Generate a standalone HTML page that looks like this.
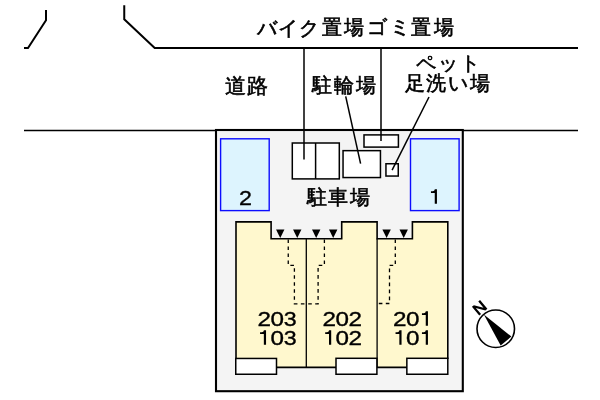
<!DOCTYPE html>
<html><head><meta charset="utf-8">
<style>
html,body{margin:0;padding:0;background:#fff;width:600px;height:400px;overflow:hidden}
svg{display:block}
text{font-family:"Liberation Sans",sans-serif;fill:#000}
.j text{stroke:#000;stroke-width:0.6px}
.d text{stroke:#000;stroke-width:0.35px}
svg{will-change:transform}
</style></head><body>
<svg width="600" height="400" viewBox="0 0 600 400">
<g fill="none" stroke="#000" stroke-width="2" stroke-linejoin="miter">
<path d="M24 48 H28 L46 20.3 V10"/>
<path d="M124.25 5.25 V19.2 L154.7 48 H578"/>
</g>
<path d="M24 130.5 H578" stroke="#000" stroke-width="1.5"/>
<!-- site -->
<rect x="216" y="130" width="246.8" height="261.2" fill="#f4f4f4" stroke="#000" stroke-width="2.1"/>
<!-- parking -->
<rect x="220.6" y="138.8" width="48.6" height="71.8" fill="#ddf4fe" stroke="#0c0cff" stroke-width="1.4"/>
<rect x="410.5" y="138.8" width="48.6" height="71.8" fill="#ddf4fe" stroke="#0c0cff" stroke-width="1.4"/>
<!-- facilities -->
<g fill="#fff" stroke="#000" stroke-width="1.5">
<rect x="292.3" y="143" width="47" height="35.9"/>
<rect x="343.05" y="150.65" width="37.4" height="26.9"/>
<rect x="364" y="134.9" width="34.4" height="12.2"/>
<rect x="385.95" y="163.75" width="12.3" height="12.3"/>
</g>
<g stroke="#000" stroke-width="1.5" fill="none">
<path d="M315.6 143 V178.9"/>
<path d="M304 48 V159.4"/>
<path d="M381 48 V141"/>
<path d="M345.7 96.3 L360.6 163.6"/>
<path d="M429 97 L392.1 170.2"/>
</g>
<!-- building -->
<path d="M236 221.9 H271.1 V238.7 H341.7 V221.9 H377.1 V238.7 H412.4 V221.9 H447.8 V367.4 H236 Z" fill="#fff8ce"/>
<path d="M236 359 V221.9 H271.1 V238.7 H341.7 V221.9 H377.1 V238.7 H412.4 V221.9 H447.8 V359 M276 367.4 H336.5 M376.5 367.4 H407.5" fill="none" stroke="#000" stroke-width="1.6"/>
<g stroke="#000" stroke-width="1.3">
<path d="M306.3 238.6 V367"/>
<path d="M377.1 238.6 V367"/>
</g>
<g stroke="#000" stroke-width="1.3" fill="none" stroke-dasharray="3.6 3.4">
<path d="M288.25 239.4 V265.3 H294.4 V303.8 H306.3"/>
<path d="M324.4 239.4 V265.3 H318.1 V303.8 H306.3"/>
<path d="M395.3 239.4 V265.3 H389.5 V303.5 H377.1"/>
</g>
<g fill="#000">
<path d="M276.05 229.4 h8.4 l-4.2 8.5 z"/>
<path d="M293.05 229.4 h8.4 l-4.2 8.5 z"/>
<path d="M312.00 229.4 h8.4 l-4.2 8.5 z"/>
<path d="M329.00 229.4 h8.4 l-4.2 8.5 z"/>
<path d="M382.40 229.4 h8.4 l-4.2 8.5 z"/>
<path d="M399.50 229.4 h8.4 l-4.2 8.5 z"/>
</g>
<g fill="#fff" stroke="#000" stroke-width="1.5">
<rect x="235.75" y="358.45" width="40.75" height="15.8"/>
<rect x="336" y="358.3" width="40.9" height="15.95"/>
<rect x="406.85" y="358.3" width="40.95" height="15.95"/>
</g>
<!-- compass -->
<g transform="translate(495.75 328.75) rotate(-40)">
<path d="M0 -18.5 L7 16 L-7 16 Z" fill="#000"/>
</g>
<circle cx="495.75" cy="328.75" r="18.75" fill="none" stroke="#000" stroke-width="1.6"/>
<path transform="translate(479.65 307.8) rotate(-40)" d="M-5.30 5.70 L-5.30 -5.70 L-2.70 -5.70 L3.00 2.40 L3.00 -5.70 L5.30 -5.70 L5.30 5.70 L2.70 5.70 L-3.00 -2.40 L-3.00 5.70 Z" fill="#000"/>
<!-- texts -->
<g class="j" font-size="20">
<text x="256.65 278 299 321.5 343.6 367.25 389.75 411 433.5" y="35 35 35 34 34 34 34 34 34">バイク置場ゴミ置場</text>
<text x="312.4 334 355.5" y="91.5">駐輪場</text>
<text x="416.3 437.9 459.9" y="69.6">ペット</text>
<text x="405.25 426.4 447.75 470.2" y="90">足洗い場</text>
<text x="306.5 327.6 349.95" y="204">駐車場</text>
</g>
<g class="j"><text x="225 246.9" y="93" font-size="21">道路</text></g>
<g class="d">
<text font-size="20.2" transform="translate(257.38 325.7) scale(1.2 1)">2</text>
<text font-size="20.2" transform="translate(270.40 325.7) scale(1.2 1)">0</text>
<text font-size="20.2" transform="translate(283.68 325.7) scale(1.15 1)">3</text>
<path transform="translate(266.05 344.8)" d="M-6 -12.5 H-4.2 Q-2.4 -12.6 -2.1 -14.5 H0 V0 H-2.2 V-10.8 H-6 Z"/>
<text font-size="20.2" transform="translate(270.40 344.8) scale(1.2 1)">0</text>
<text font-size="20.2" transform="translate(283.68 344.8) scale(1.15 1)">3</text>
<text font-size="20.2" transform="translate(322.53 325.7) scale(1.2 1)">2</text>
<text font-size="20.2" transform="translate(335.55 325.7) scale(1.2 1)">0</text>
<text font-size="20.2" transform="translate(348.53 325.7) scale(1.2 1)">2</text>
<path transform="translate(331.20 344.8)" d="M-6 -12.5 H-4.2 Q-2.4 -12.6 -2.1 -14.5 H0 V0 H-2.2 V-10.8 H-6 Z"/>
<text font-size="20.2" transform="translate(335.55 344.8) scale(1.2 1)">0</text>
<text font-size="20.2" transform="translate(348.53 344.8) scale(1.2 1)">2</text>
<text font-size="20.2" transform="translate(392.88 325.7) scale(1.2 1)">2</text>
<text font-size="20.2" transform="translate(405.90 325.7) scale(1.2 1)">0</text>
<path transform="translate(427.95 325.7)" d="M-6 -12.5 H-4.2 Q-2.4 -12.6 -2.1 -14.5 H0 V0 H-2.2 V-10.8 H-6 Z"/>
<path transform="translate(401.55 344.8)" d="M-6 -12.5 H-4.2 Q-2.4 -12.6 -2.1 -14.5 H0 V0 H-2.2 V-10.8 H-6 Z"/>
<text font-size="20.2" transform="translate(405.90 344.8) scale(1.2 1)">0</text>
<path transform="translate(427.95 344.8)" d="M-6 -12.5 H-4.2 Q-2.4 -12.6 -2.1 -14.5 H0 V0 H-2.2 V-10.8 H-6 Z"/>
<text font-size="20.4" transform="translate(239.1 205.4) scale(1.14 1)">2</text>
<path transform="translate(436.95 203.7)" d="M-6 -12.5 H-4.2 Q-2.4 -12.6 -2.1 -14.5 H0 V0 H-2.2 V-10.8 H-6 Z"/>
</g>
</svg>
</body></html>
